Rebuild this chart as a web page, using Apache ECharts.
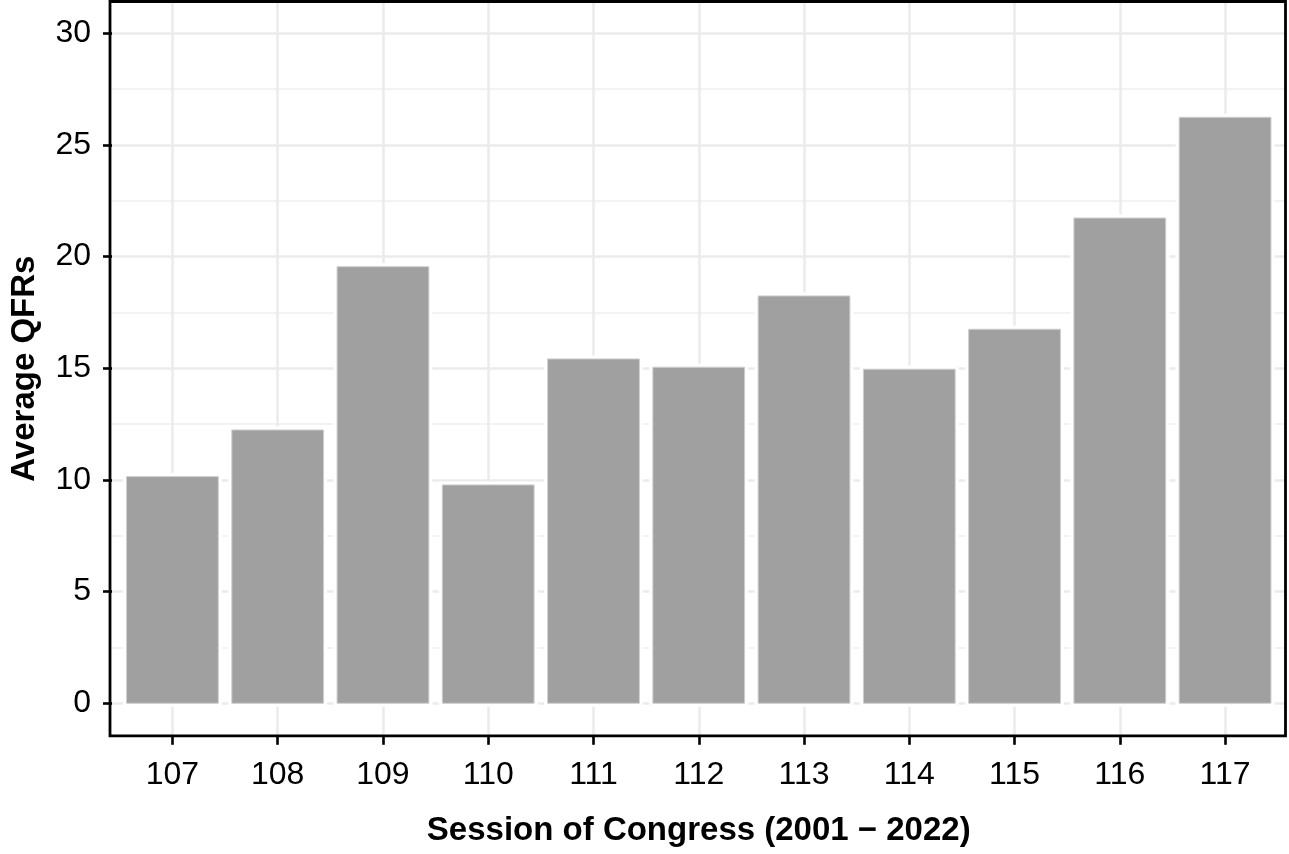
<!DOCTYPE html>
<html>
<head>
<meta charset="utf-8">
<script src="https://cdn.jsdelivr.net/npm/echarts@6/dist/echarts.min.js"></script>
<style>
  html, body { margin: 0; padding: 0; background: #fff; }
  #chart { width: 1289px; height: 854px; }
</style>
</head>
<body>
<div id="chart"></div>
<script>
// sessions of congress and average QFRs
const sessions = ['107', '108', '109', '110', '111', '112', '113', '114', '115', '116', '117'];
const avgQfrs = [10.15, 12.24, 19.55, 9.78, 15.42, 15.05, 18.24, 14.96, 16.75, 21.73, 26.24];
const yTicks = [0, 5, 10, 15, 20, 25, 30];
const yMinor = [2.5, 7.5, 12.5, 17.5, 22.5, 27.5];
const xPositions = sessions.map((s, i) => i + 1);

// panel box (ggplot style, expanded scales)
const PANEL = { left: 110, right: 1285.5, top: 1.5, bottom: 735.8 };
const FONT = '"Liberation Sans", Arial, sans-serif';
const BAR_FRACTION = 0.872; // of one category step

const chart = echarts.init(document.getElementById('chart'));

// bar with a white halo round it, like ggplot's colour = "white"
function renderBar(params, api) {
  const x = api.value(0);
  const y = api.value(1);
  const top = api.coord([x, y]);
  const base = api.coord([x, 0]);
  const w = api.size([1, 0])[0] * BAR_FRACTION;
  const rect = { x: top[0] - w / 2, y: top[1], width: w, height: base[1] - top[1] };
  return {
    type: 'group',
    children: [
      { type: 'rect', shape: rect, style: { fill: '#fff', stroke: '#fff', lineWidth: 7 } },
      { type: 'rect', shape: rect, style: { fill: '#a0a0a0', stroke: '#cfcfcf', lineWidth: 1 } }
    ]
  };
}

const option = {
  animation: false,
  backgroundColor: '#fff',
  grid: {
    left: PANEL.left,
    top: PANEL.top,
    width: PANEL.right - PANEL.left,
    height: PANEL.bottom - PANEL.top
  },
  xAxis: {
    type: 'value',
    min: 0.426,
    max: 11.574,
    name: 'Session of Congress (2001 \u2212 2022)',
    nameLocation: 'middle',
    nameGap: 79,
    nameTextStyle: { fontFamily: FONT, fontSize: 33, fontWeight: 'bold', color: '#000' },
    axisLine: { show: false, onZero: false },
    axisTick: {
      customValues: xPositions,
      length: 9,
      lineStyle: { color: '#000', width: 2.6 }
    },
    axisLabel: {
      customValues: xPositions,
      margin: 23,
      fontFamily: FONT,
      fontSize: 32,
      color: '#000',
      formatter: v => sessions[Math.round(v) - 1]
    },
    splitLine: { show: true, lineStyle: { color: '#ebebeb', width: 2.5 } }
  },
  yAxis: [
    {
      type: 'value',
      min: -1.455,
      max: 31.424,
      name: 'Average QFRs',
      nameLocation: 'middle',
      nameGap: 71,
      nameTextStyle: { fontFamily: FONT, fontSize: 33, fontWeight: 'bold', color: '#000' },
      axisLine: { show: false, onZero: false },
      axisTick: {
        customValues: yTicks,
        length: 9,
        lineStyle: { color: '#000', width: 2.6 }
      },
      axisLabel: {
        customValues: yTicks,
        margin: 21,
        fontFamily: FONT,
        fontSize: 32,
        color: '#000'
      },
      splitLine: { show: true, lineStyle: { color: '#ebebeb', width: 2.5 } }
    },
    {
      // minor grid only
      type: 'value',
      min: -1.455,
      max: 31.424,
      position: 'left',
      axisLine: { show: false, onZero: false },
      axisTick: { show: false, customValues: yMinor },
      axisLabel: { show: false },
      splitLine: { show: true, lineStyle: { color: '#efefef', width: 1.5 } }
    }
  ],
  series: [
    {
      type: 'custom',
      yAxisIndex: 0,
      renderItem: renderBar,
      encode: { x: 0, y: 1 },
      data: xPositions.map((x, i) => [x, avgQfrs[i]]),
      z: 3
    }
  ],
  graphic: [
    {
      type: 'rect',
      z: 100,
      silent: true,
      shape: {
        x: PANEL.left,
        y: PANEL.top,
        width: PANEL.right - PANEL.left,
        height: PANEL.bottom - PANEL.top
      },
      style: { fill: null, stroke: '#000', lineWidth: 2.8 }
    }
  ]
};

chart.setOption(option);
</script>
</body>
</html>
